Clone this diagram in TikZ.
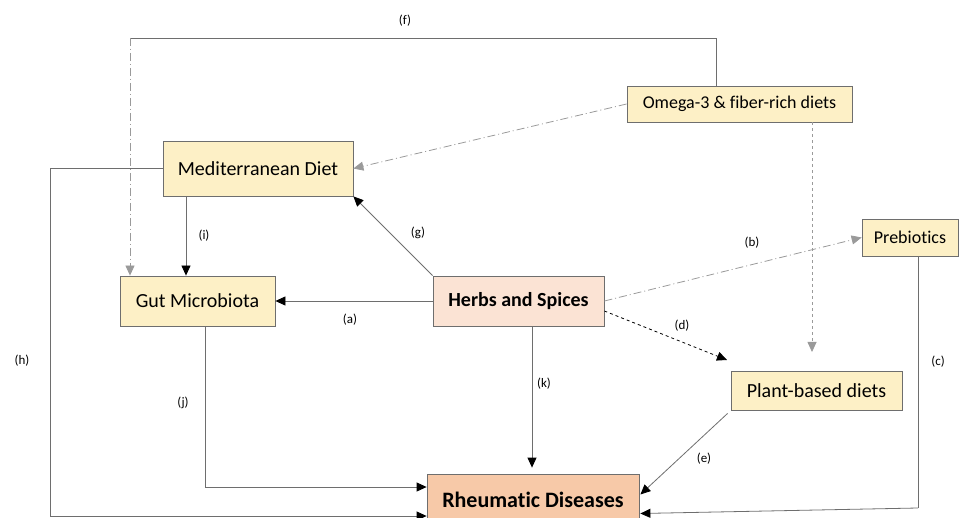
\documentclass[tikz,border=0pt]{standalone}
\usepackage{fontspec}
\setmainfont[Ligatures=NoCommon]{Carlito}
\usetikzlibrary{arrows.meta,calc}
\definecolor{boxy}{HTML}{FDF0C6}
\definecolor{boxp}{HTML}{FBE3D4}
\definecolor{boxr}{HTML}{F7C9A8}
\definecolor{edge}{HTML}{6E6E6E}
\definecolor{lgray}{HTML}{9A9A9A}
\begin{document}
\begin{tikzpicture}[x=1pt,y=-1pt,
  box/.style={draw=edge,line width=0.8pt,fill=boxy,inner sep=0pt,font=\fontsize{20}{24}\selectfont},
  conn/.style={draw=edge,line width=0.8pt},
  blk/.style={conn,-{Triangle[length=10pt,width=9pt,color=black]}},
  gry/.style={draw=lgray,line width=0.8pt,-{Triangle[length=10pt,width=9pt]},lgray},
  dd/.style={dash pattern=on 8pt off 3pt on 1pt off 3pt},
  lab/.style={font=\fontsize{13}{15}\selectfont}]
\useasboundingbox (0,0) rectangle (961,518);
\node[box,minimum width=190pt,minimum height=55pt] (med) at (258,168.5) {Mediterranean Diet};
\node[box,minimum width=225pt,minimum height=36pt,font=\fontsize{18}{22}\selectfont] (omega) at (739.5,104) {Omega-3 \& fiber-rich diets};
\node[box,minimum width=96pt,minimum height=37pt,font=\fontsize{18}{22}\selectfont] (pre) at (910,237.5) {Prebiotics};
\node[box,minimum width=155pt,minimum height=50pt] (gut) at (197.5,301) {Gut Microbiota};
\node[box,fill=boxp,minimum width=171pt,minimum height=50pt,font=\fontsize{20}{24}\selectfont\bfseries] (herb) at (518.5,301) {Herbs and Spices};
\node[box,minimum width=171pt,minimum height=39pt] (plant) at (816.5,390.5) {Plant-based diets};
\node[box,fill=boxr,minimum width=212pt,minimum height=51pt,font=\fontsize{22}{26}\selectfont\bfseries] (rd) at (533,499.5) {Rheumatic Diseases};
% (f)
\coordinate (f1) at (716,38);
\coordinate (f2) at (130,38);
\draw[conn] (omega.north -| f1) -- (f1) -- (f2);
\draw[gry,dd] (f2) -- (gut.north -| f2);
\node[lab] (lf) at (405,21) {(f)};
% omega -> med
\draw[gry,dd] (omega.west) -- (med.east);
% omega -> plant
\coordinate (pe) at (812,352);
\draw[gry,dashed] (omega.south -| pe) -- (pe);
% (h)
\coordinate (h1) at (50,168);
\coordinate (h2) at (50,516);
\draw[conn] (med.west |- h1) -- (h1) -- (h2);
\draw[blk] (h2) -- (rd.west |- h2);
\node[lab] (lh) at (22,361) {(h)};
% (i)
\coordinate (i1) at (186,0);
\draw[blk] (med.south -| i1) -- (gut.north -| i1);
\node[lab] (li) at (204,236) {(i)};
% (g)
\draw[blk] (herb.north west) -- (med.south east);
\node[lab] (lg) at (418,233) {(g)};
% (a)
\draw[blk] (herb.west) -- (gut.east);
\node[lab] (la) at (350,320) {(a)};
% (b)
\draw[gry,dd] (herb.east) -- (pre.west);
\node[lab] (lb) at (752,243) {(b)};
% (d)
\coordinate (d1) at (727,360);
\draw[conn,dashed,-{Triangle[length=10pt,width=9pt]},black] ($(herb.east)+(0,10)$) -- (d1);
\node[lab] (ld) at (682,326) {(d)};
% (k)
\coordinate (k1) at (532,0);
\draw[blk] (herb.south -| k1) -- ($(rd.north -| k1)+(0,-6)$);
\node[lab] (lk) at (544,384) {(k)};
% (j)
\coordinate (j1) at (205,487);
\draw[conn] (gut.south -| j1) -- (j1);
\draw[blk] (j1) -- (rd.west |- j1);
\node[lab] (lj) at (183,403) {(j)};
% (e)
\draw[blk] ($(plant.south west)+(-3,3)$) -- ($(rd.east)+(1,-5)$);
\node[lab] (le) at (704,459) {(e)};
% (c)
\coordinate (c1) at (918,508);
\draw[conn] (pre.south -| c1) -- (c1);
\draw[blk] (c1) -- ($(rd.east)+(1,14)$);
\node[lab] (lc) at (938,362) {(c)};
\end{tikzpicture}
\end{document}
